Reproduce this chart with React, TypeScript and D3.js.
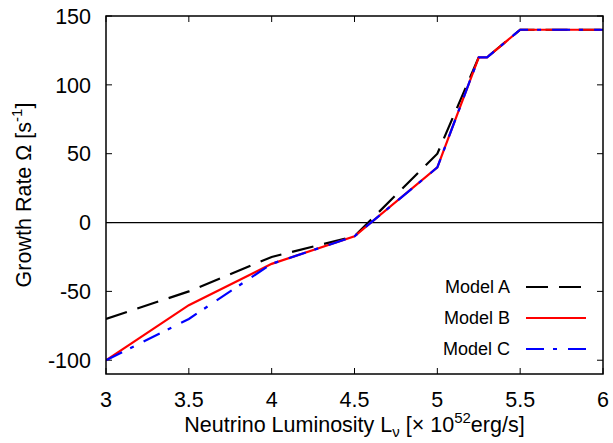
import React from "react";
import * as d3 from "d3";

const xs = [3, 3.5, 4, 4.5, 5, 5.25, 5.3, 5.5, 6];
const modelA = [-70, -50, -25, -10, 50, 120, 120, 140, 140];
const modelB = [-100, -60, -30, -10, 40, 120, 120, 140, 140];
const modelC = [-100, -70, -30, -10, 40, 120, 120, 140, 140];
const xTicks = [3, 3.5, 4, 4.5, 5, 5.5, 6];
const yTicks = [-100, -50, 0, 50, 100, 150];
const seriesNames = ["Model A", "Model B", "Model C"];

const W = 613, H = 443;
const M = { left: 106, right: 603, top: 16, bottom: 374 };
const FONT = "'Liberation Sans', Arial, Helvetica, sans-serif";

export default function App() {
  const x = d3.scaleLinear().domain([3, 6]).range([M.left, M.right]);
  const y = d3.scaleLinear().domain([-110, 150]).range([M.bottom, M.top]);
  const line = d3.line<number>().x((_, i) => x(xs[i])).y((d) => y(d));

  const series = [
    { name: seriesNames[0], data: modelA, color: "#000000", dash: "22,11" },
    { name: seriesNames[1], data: modelB, color: "#ff0000", dash: "" },
    { name: seriesNames[2], data: modelC, color: "#0000ff", dash: "18,9,4,11" },
  ];

  const legendRowY = [287, 318, 349];

  return (
    <svg width={W} height={H} style={{ position: "absolute", left: 0, top: 0, background: "#fff" }} fontFamily={FONT}>
      <rect x={0} y={0} width={W} height={H} fill="#fff" />
      <defs>
        <clipPath id="plotclip">
          <rect x={M.left} y={M.top} width={M.right - M.left} height={M.bottom - M.top} />
        </clipPath>
      </defs>
      {/* zero line */}
      <line x1={M.left} x2={M.right} y1={y(0)} y2={y(0)} stroke="#000" strokeWidth={1.2} />
      {/* ticks */}
      {xTicks.map((t) => (
        <g key={"xt" + t}>
          <line x1={x(t)} x2={x(t)} y1={M.bottom} y2={M.bottom - 6} stroke="#000" strokeWidth={1} />
          <line x1={x(t)} x2={x(t)} y1={M.top} y2={M.top + 6} stroke="#000" strokeWidth={1} />
          <text x={x(t)} y={407} fontSize={21.5} textAnchor="middle" fill="#000">{t}</text>
        </g>
      ))}
      {yTicks.map((t) => (
        <g key={"yt" + t}>
          <line x1={M.left} x2={M.left + 6} y1={y(t)} y2={y(t)} stroke="#000" strokeWidth={1} />
          <line x1={M.right} x2={M.right - 6} y1={y(t)} y2={y(t)} stroke="#000" strokeWidth={1} />
          <text x={91} y={y(t)} dy="0.36em" fontSize={21.5} textAnchor="end" fill="#000">{t}</text>
        </g>
      ))}
      {/* series */}
      <g clipPath="url(#plotclip)">
        {series.map((s) => (
          <path key={s.name} d={line(s.data) || ""} fill="none" stroke={s.color} strokeWidth={2.2}
            strokeDasharray={s.dash || undefined} />
        ))}
      </g>
      {/* legend */}
      {series.map((s, i) => (
        <g key={"lg" + s.name}>
          <text x={510} y={legendRowY[i]} dy="0.36em" fontSize={18} textAnchor="end" fill="#000">{s.name}</text>
          <line x1={526} x2={586} y1={legendRowY[i]} y2={legendRowY[i]} stroke={s.color} strokeWidth={2.2}
            strokeDasharray={s.dash || undefined} />
        </g>
      ))}
      {/* frame */}
      <rect x={M.left} y={M.top} width={M.right - M.left} height={M.bottom - M.top} fill="none" stroke="#000" strokeWidth={1.5} />
      {/* axis titles */}
      <text x={(M.left + M.right) / 2} y={432} fontSize={21.5} textAnchor="middle" fill="#000">
        Neutrino Luminosity L
        <tspan fontSize={15} dy={5}>ν</tspan>
        <tspan dy={-5}> [× 10</tspan>
        <tspan fontSize={15} dy={-9}>52</tspan>
        <tspan dy={9}>erg/s]</tspan>
      </text>
      <text transform={`translate(31,${(M.top + M.bottom) / 2}) rotate(-90)`} fontSize={21.5} textAnchor="middle" fill="#000">
        Growth Rate Ω [s
        <tspan fontSize={15} dy={-9}>-1</tspan>
        <tspan dy={9}>]</tspan>
      </text>
    </svg>
  );
}
